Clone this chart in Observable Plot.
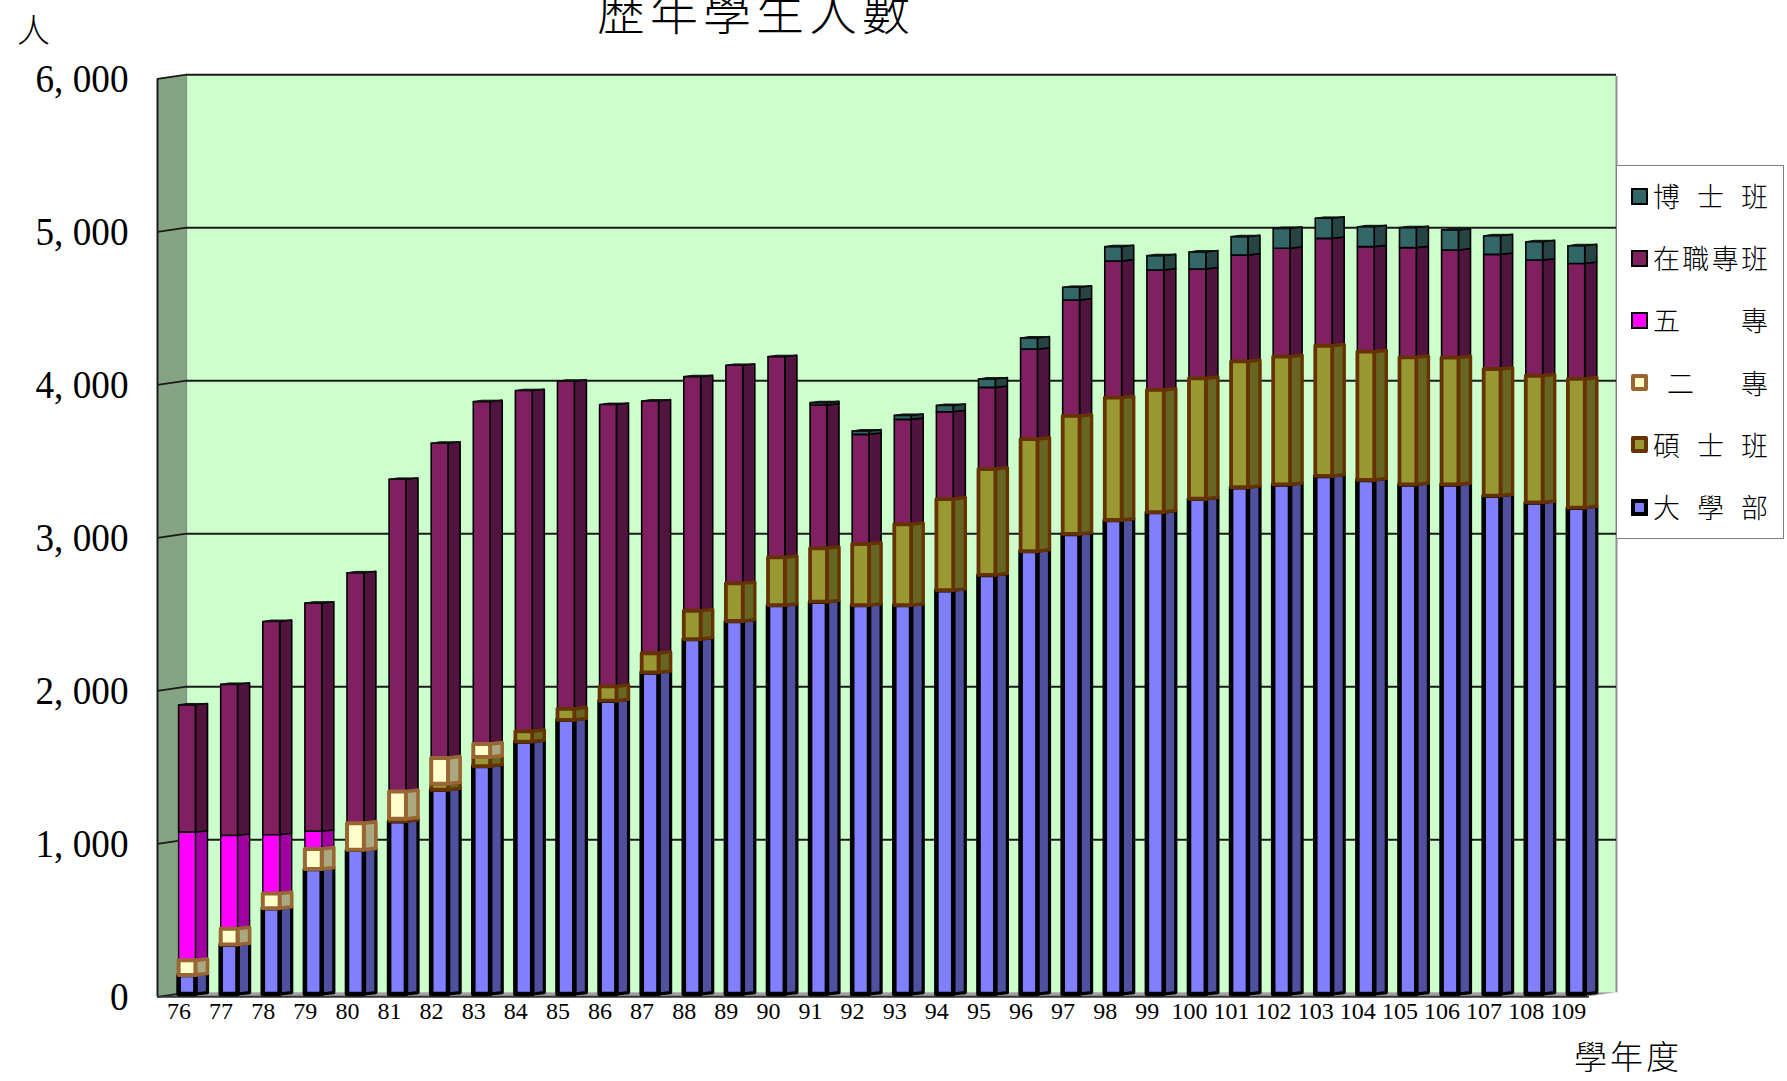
<!DOCTYPE html>
<html lang="zh-Hant">
<head>
<meta charset="utf-8">
<title>歷年學生人數</title>
<script src="https://cdn.jsdelivr.net/npm/d3@7"></script>
<script src="https://cdn.jsdelivr.net/npm/@observablehq/plot@0.6"></script>
<style>
html,body{margin:0;padding:0;background:#fff;width:1787px;height:1081px;overflow:hidden}
#wrap{position:relative;width:1787px;height:1081px}
.t{position:absolute;font-family:"Noto Sans CJK TC","Noto Sans CJK JP",sans-serif;font-weight:300;color:#000;white-space:nowrap;line-height:1}
#legend{position:absolute;left:1616px;top:165px;width:166px;height:372px;background:#fff;border:1px solid #808080;font-family:"Noto Sans CJK TC",sans-serif;font-weight:300}
.row{position:absolute;left:14px;width:137px;height:30px;display:flex;align-items:center}
.sw{box-sizing:border-box;width:17px;height:17px;flex:none;margin-right:5px}
.lb{flex:1;font-size:27px;line-height:30px;text-align:justify;text-align-last:justify;white-space:normal}
</style>
</head>
<body>
<div id="wrap"></div>
<script>
const years = d3.range(76, 110);
const undergrad = [125,323,561,817,943,1130,1335,1490,1650,1792,1917,2102,2320,2438,2542,2564,2542,2542,2640,2739,2895,3007,3098,3150,3237,3312,3331,3386,3360,3331,3331,3257,3213,3179];
const master = [0,0,0,0,0,15,40,59,67,72,94,125,185,246,312,349,399,528,595,692,732,771,800,798,787,823,835,851,838,830,828,828,828,841];
const twoYear = [95,104,96,131,173,179,168,85,0,0,0,0,0,0,0,0,0,0,0,0,0,0,0,0,0,0,0,0,0,0,0,0,0,0];
const fiveYear = [837,609,384,115,0,0,0,0,0,0,0,0,0,0,0,0,0,0,0,0,0,0,0,0,0,0,0,0,0,0,0,0,0,0];
const inService = [833,988,1394,1492,1637,2040,2057,2238,2227,2141,1842,1649,1530,1425,1312,937,717,686,571,534,588,758,893,784,715,695,708,702,687,717,704,749,756,755];
const doctoral = [0,0,0,0,0,0,0,0,0,0,0,0,0,0,0,15,22,26,41,55,73,83,94,94,111,120,130,131,130,131,130,122,120,116];

const seriesNames = ["大學部","碩士班","二專","五專","在職專班","博士班"];
const seriesValues = [undergrad, master, twoYear, fiveYear, inService, doctoral];
const frontFill = ["#8080ff","#999933","#ffffcc","#ff00ff","#802060","#336666"];
const sideFill  = ["#5050a0","#666622","#aaa880","#a000a0","#50143f","#264444"];
const edge      = ["#000000","#663300","#996633","#000000","#000000","#000000"];
const edgeWidth = [4.6,3.8,4,1.4,1.6,1.6];
const sideWidth = [3.2,3.4,3.6,1.4,1.6,1.6];
const drawOrder = [4,5,3,0,1,2];
const yTicks = [0,1000,2000,3000,4000,5000,6000];

// cumulative stack
const cum = years.map(()=>0);
const segs = seriesNames.map((name,s)=>{
  const out=[];
  years.forEach((yr,i)=>{
    const v=seriesValues[s][i];
    if(v>0) out.push({yr,start:cum[i],end:cum[i]+v});
    cum[i]+=v;
  });
  return out;
});
const totals = years.map((yr,i)=>({yr,total:cum[i]}));

const hw=.2, sd=.487, rise=9;           // half bar width, side depth (in year units), rise of side (in value units)
const xL=75.287, xB=75.976, xR=109.943, xF=109.3; // wall corners on the x scale
const fr=-15, bk=12;                    // value offset of wall front and back planes

const sideRows = s => segs[s].flatMap(d=>[
  {k:d.yr,x:d.yr+hw,y1:d.start,y2:d.end},
  {k:d.yr,x:d.yr+sd,y1:d.start+rise,y2:d.end+rise}
]);
const topRows = totals.flatMap(d=>[
  {k:d.yr,x:d.yr-hw,y1:d.total,y2:d.total},
  {k:d.yr,x:d.yr,y1:d.total,y2:d.total+rise},
  {k:d.yr,x:d.yr+hw,y1:d.total,y2:d.total+rise},
  {k:d.yr,x:d.yr+sd,y1:d.total+rise,y2:d.total+rise}
]);

const marks=[
  // back wall
  Plot.rect([0],{x1:xB,x2:xR,y1:bk,y2:6000+bk/2,fill:"#ccffcc"}),
  Plot.ruleX([xR],{y1:bk,y2:6000,stroke:"#909090",strokeWidth:2}),
  // floor
  Plot.areaY([{x:xL,y1:fr,y2:fr},{x:xB,y1:fr,y2:bk},{x:xF,y1:fr,y2:bk},{x:xR,y1:bk,y2:bk}],{x:"x",y1:"y1",y2:"y2",fill:"#a0a0a0",curve:"linear"}),
  // left side wall
  Plot.areaY([{x:xL,y1:fr,y2:6000+fr},{x:xB,y1:bk,y2:6000+bk/2}],{x:"x",y1:"y1",y2:"y2",fill:"#84a484",curve:"linear"}),
  Plot.ruleX([xB],{y1:bk,y2:6000,stroke:"#8a8a8a",strokeWidth:1.2}),
  // grid
  Plot.ruleY(yTicks.slice(1),{x1:xB,x2:xR,y:d=>d+bk-1,stroke:"#1a1a1a",strokeWidth:2}),
  Plot.link(yTicks,{x1:xL,x2:xB,y1:d=>d+fr,y2:d=>d+bk,stroke:"#1a1a1a",strokeWidth:1.8}),
  Plot.ruleX([xL],{y1:fr,y2:6000+fr,stroke:"#1a1a1a",strokeWidth:2}),
  Plot.ruleY([fr],{x1:xL,x2:xF,stroke:"#333",strokeWidth:2})
];
// bars
drawOrder.forEach(s=>{
  marks.push(Plot.areaY(sideRows(s),{x:"x",y1:"y1",y2:"y2",z:"k",fill:sideFill[s],stroke:edge[s],strokeWidth:sideWidth[s],strokeLinejoin:"round",curve:"linear"}));
  marks.push(Plot.rect(segs[s],{x1:d=>d.yr-hw,x2:d=>d.yr+hw,y1:"start",y2:"end",fill:frontFill[s],stroke:edge[s],strokeWidth:edgeWidth[s],strokeLinejoin:"round"}));
});
// top faces of the stacks
marks.push(Plot.areaY(topRows,{x:"x",y1:"y1",y2:"y2",z:"k",fill:"#111",stroke:"#111",strokeWidth:1,curve:"linear"}));
// axes
marks.push(Plot.axisY(yTicks,{anchor:"left",label:null,tickSize:0,tickPadding:29,dy:3,
  tickFormat:d=>d3.format(",")(d).replace(",",", "),fontFamily:"Liberation Serif",fontSize:40}));
marks.push(Plot.axisX(years,{anchor:"bottom",label:null,tickSize:0,tickPadding:7,dx:-8.5,
  tickFormat:String,fontFamily:"Liberation Serif",fontSize:24}));

const chart=Plot.plot({
  width:1787,height:1081,
  marginLeft:157,marginRight:171,marginTop:76,marginBottom:87,
  style:{background:"transparent",overflow:"visible"},
  x:{type:"linear",domain:[xL,xR],axis:null},
  y:{type:"linear",domain:[0,6000],axis:null},
  marks
});
const wrap=document.getElementById("wrap");
wrap.appendChild(chart);
chart.querySelectorAll('[aria-label="y-axis tick label"] text').forEach(t=>{
  const tr=t.getAttribute("transform")||"";
  t.setAttribute("transform",tr+" scale(.93,1)");
});

function addText(txt,left,top,size,extra){
  const d=document.createElement("div");d.className="t";d.textContent=txt;
  d.style.left=left+"px";d.style.top=top+"px";d.style.fontSize=size+"px";
  Object.assign(d.style,extra||{});wrap.appendChild(d);
}
addText("歷年學生人數",597,-15,48,{letterSpacing:"5px"});
addText("人",17,12,33);
addText("學年度",1574,1039,33,{letterSpacing:"3px"});

const legendLabels=[["博 士 班",5,0],["在職專班",4,0],["五 專",3,0],["二 專",2,14],["碩 士 班",1,0],["大 學 部",0,0]];
const lg=document.createElement("div");lg.id="legend";
legendLabels.forEach(([txt,s,pad],i)=>{
  const r=document.createElement("div");r.className="row";r.style.top=(15+i*62.2)+"px";
  const sw=document.createElement("div");sw.className="sw";sw.style.background=frontFill[s];
  sw.style.border=(s==0||s==1||s==2?4:2.5)+"px solid "+edge[s];
  if(s==2||s==1)sw.style.borderRadius="2px";
  const lb=document.createElement("div");lb.className="lb";lb.textContent=txt;lb.style.paddingLeft=pad+"px";
  r.appendChild(sw);r.appendChild(lb);lg.appendChild(r);
});
wrap.appendChild(lg);
</script>
</body>
</html>
